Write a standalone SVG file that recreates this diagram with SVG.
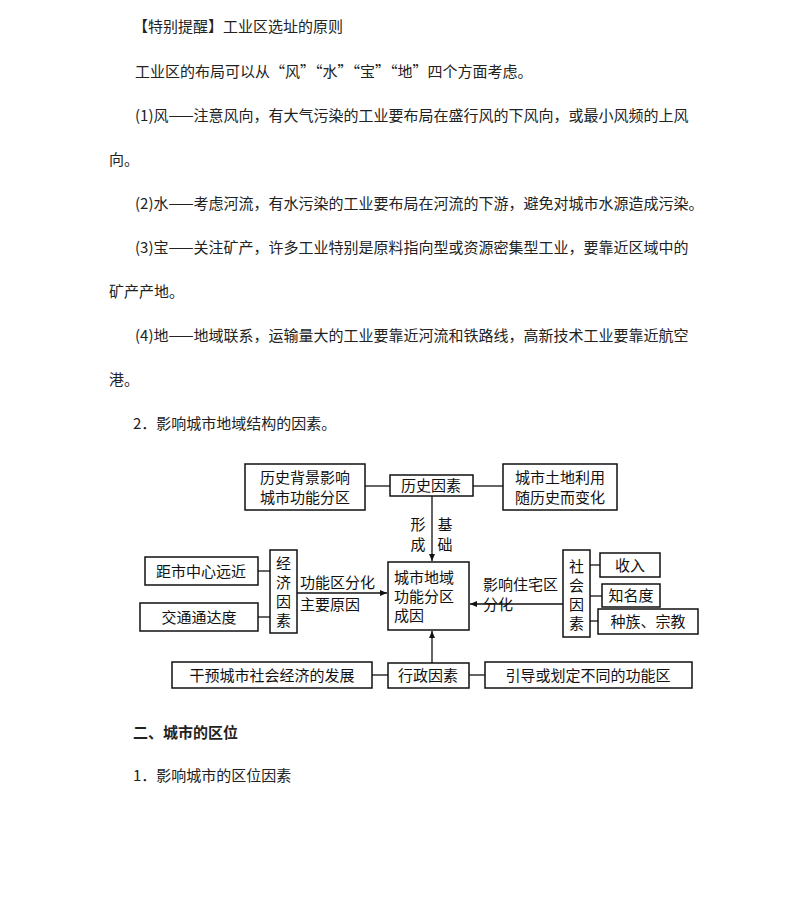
<svg xmlns="http://www.w3.org/2000/svg" width="794" height="924" viewBox="0 0 794 924">
<style>
.t{font-family:"Noto Sans CJK SC","Noto Sans",sans-serif;font-size:15px;fill:#222}
.b{font-family:"Noto Sans CJK SC",serif;font-size:15px;fill:#111}
rect{fill:#fff;stroke:#111;stroke-width:1.5}
.c line{stroke:#111;stroke-width:1.3}
</style>
<defs><marker id="a" markerWidth="8" markerHeight="8" refX="7" refY="4" orient="auto" markerUnits="userSpaceOnUse"><path d="M0,1 L7,4 L0,7 z" fill="#111"/></marker></defs>
<rect x="0" y="0" width="794" height="924" style="fill:#fff;stroke:none"/>
<g id="text">
<text class="t" x="133" y="32">【特别提醒】工业区选址的原则</text>
<text class="t" x="135" y="77">工业区的布局可以从“风”“水”“宝”“地”四个方面考虑。</text>
<text class="t" x="135" y="121">(1)风——注意风向，有大气污染的工业要布局在盛行风的下风向，或最小风频的上风</text>
<text class="t" x="109" y="165">向。</text>
<text class="t" x="135" y="209">(2)水——考虑河流，有水污染的工业要布局在河流的下游，避免对城市水源造成污染。</text>
<text class="t" x="135" y="253">(3)宝——关注矿产，许多工业特别是原料指向型或资源密集型工业，要靠近区域中的</text>
<text class="t" x="109" y="297">矿产产地。</text>
<text class="t" x="135" y="341">(4)地——地域联系，运输量大的工业要靠近河流和铁路线，高新技术工业要靠近航空</text>
<text class="t" x="109" y="385">港。</text>
<text class="t" x="133" y="429">2．影响城市地域结构的因素。</text>
<text class="t" x="133" y="738" font-weight="bold">二、城市的区位</text>
<text class="t" x="133" y="781">1．影响城市的区位因素</text>
</g>
<g class="c" id="connectors">
<line x1="365" y1="486" x2="390" y2="486"/>
<line x1="473" y1="486" x2="503" y2="486"/>
<line x1="432" y1="496" x2="432" y2="561" marker-end="url(#a)"/>
<line x1="258" y1="571" x2="270" y2="571"/>
<line x1="258" y1="617" x2="270" y2="617"/>
<line x1="297" y1="593" x2="387" y2="593" marker-end="url(#a)"/>
<line x1="563" y1="604" x2="470" y2="604" marker-end="url(#a)"/>
<line x1="590" y1="565" x2="600" y2="565"/>
<line x1="590" y1="596" x2="602" y2="596"/>
<line x1="590" y1="621" x2="598" y2="621"/>
<line x1="432" y1="663" x2="432" y2="631" marker-end="url(#a)"/>
<line x1="372" y1="675" x2="388" y2="675"/>
<line x1="469" y1="675" x2="485" y2="675"/>
</g>
<g id="n1"><rect x="245" y="464" width="120" height="46"/><text class="b" x="305" y="483" text-anchor="middle">历史背景影响</text><text class="b" x="305" y="503" text-anchor="middle">城市功能分区</text></g>
<g id="n2"><rect x="390" y="475" width="83" height="21"/><text class="b" x="431" y="491" text-anchor="middle">历史因素</text></g>
<g id="n3"><rect x="503" y="464" width="114" height="46"/><text class="b" x="560" y="483" text-anchor="middle">城市土地利用</text><text class="b" x="560" y="503" text-anchor="middle">随历史而变化</text></g>
<g id="lbl1"><text class="b" x="418" y="530" text-anchor="middle">形</text><text class="b" x="418" y="550" text-anchor="middle">成</text><text class="b" x="445" y="530" text-anchor="middle">基</text><text class="b" x="445" y="550" text-anchor="middle">础</text></g>
<g id="n4"><rect x="388" y="562" width="81" height="68"/><text class="b" x="394" y="583">城市地域</text><text class="b" x="394" y="602">功能分区</text><text class="b" x="394" y="621">成因</text></g>
<g id="n5"><rect x="270" y="550" width="27" height="83"/><text class="b" x="283.5" y="569" text-anchor="middle">经</text><text class="b" x="283.5" y="588" text-anchor="middle">济</text><text class="b" x="283.5" y="607" text-anchor="middle">因</text><text class="b" x="283.5" y="626" text-anchor="middle">素</text></g>
<g id="n6"><rect x="145" y="557" width="113" height="28"/><text class="b" x="201" y="577" text-anchor="middle">距市中心远近</text></g>
<g id="n7"><rect x="140" y="603" width="118" height="28"/><text class="b" x="199" y="623" text-anchor="middle">交通通达度</text></g>
<g id="lbl2"><text class="b" x="300" y="588">功能区分化</text><text class="b" x="300" y="610">主要原因</text></g>
<g id="lbl3"><text class="b" x="483" y="590">影响住宅区</text><text class="b" x="483" y="610">分化</text></g>
<g id="n8"><rect x="563" y="550" width="27" height="87"/><text class="b" x="576.5" y="572" text-anchor="middle">社</text><text class="b" x="576.5" y="591" text-anchor="middle">会</text><text class="b" x="576.5" y="610" text-anchor="middle">因</text><text class="b" x="576.5" y="629" text-anchor="middle">素</text></g>
<g id="n9"><rect x="600" y="553" width="60" height="24"/><text class="b" x="630" y="571" text-anchor="middle">收入</text></g>
<g id="n10"><rect x="602" y="584" width="58" height="23"/><text class="b" x="631" y="601" text-anchor="middle">知名度</text></g>
<g id="n11"><rect x="598" y="609" width="100" height="25"/><text class="b" x="648" y="627" text-anchor="middle">种族、宗教</text></g>
<g id="n12"><rect x="388" y="663" width="81" height="25"/><text class="b" x="428" y="681" text-anchor="middle">行政因素</text></g>
<g id="n13"><rect x="172" y="662" width="200" height="26"/><text class="b" x="272" y="681" text-anchor="middle">干预城市社会经济的发展</text></g>
<g id="n14"><rect x="485" y="662" width="207" height="26"/><text class="b" x="588" y="681" text-anchor="middle">引导或划定不同的功能区</text></g>
</svg>
